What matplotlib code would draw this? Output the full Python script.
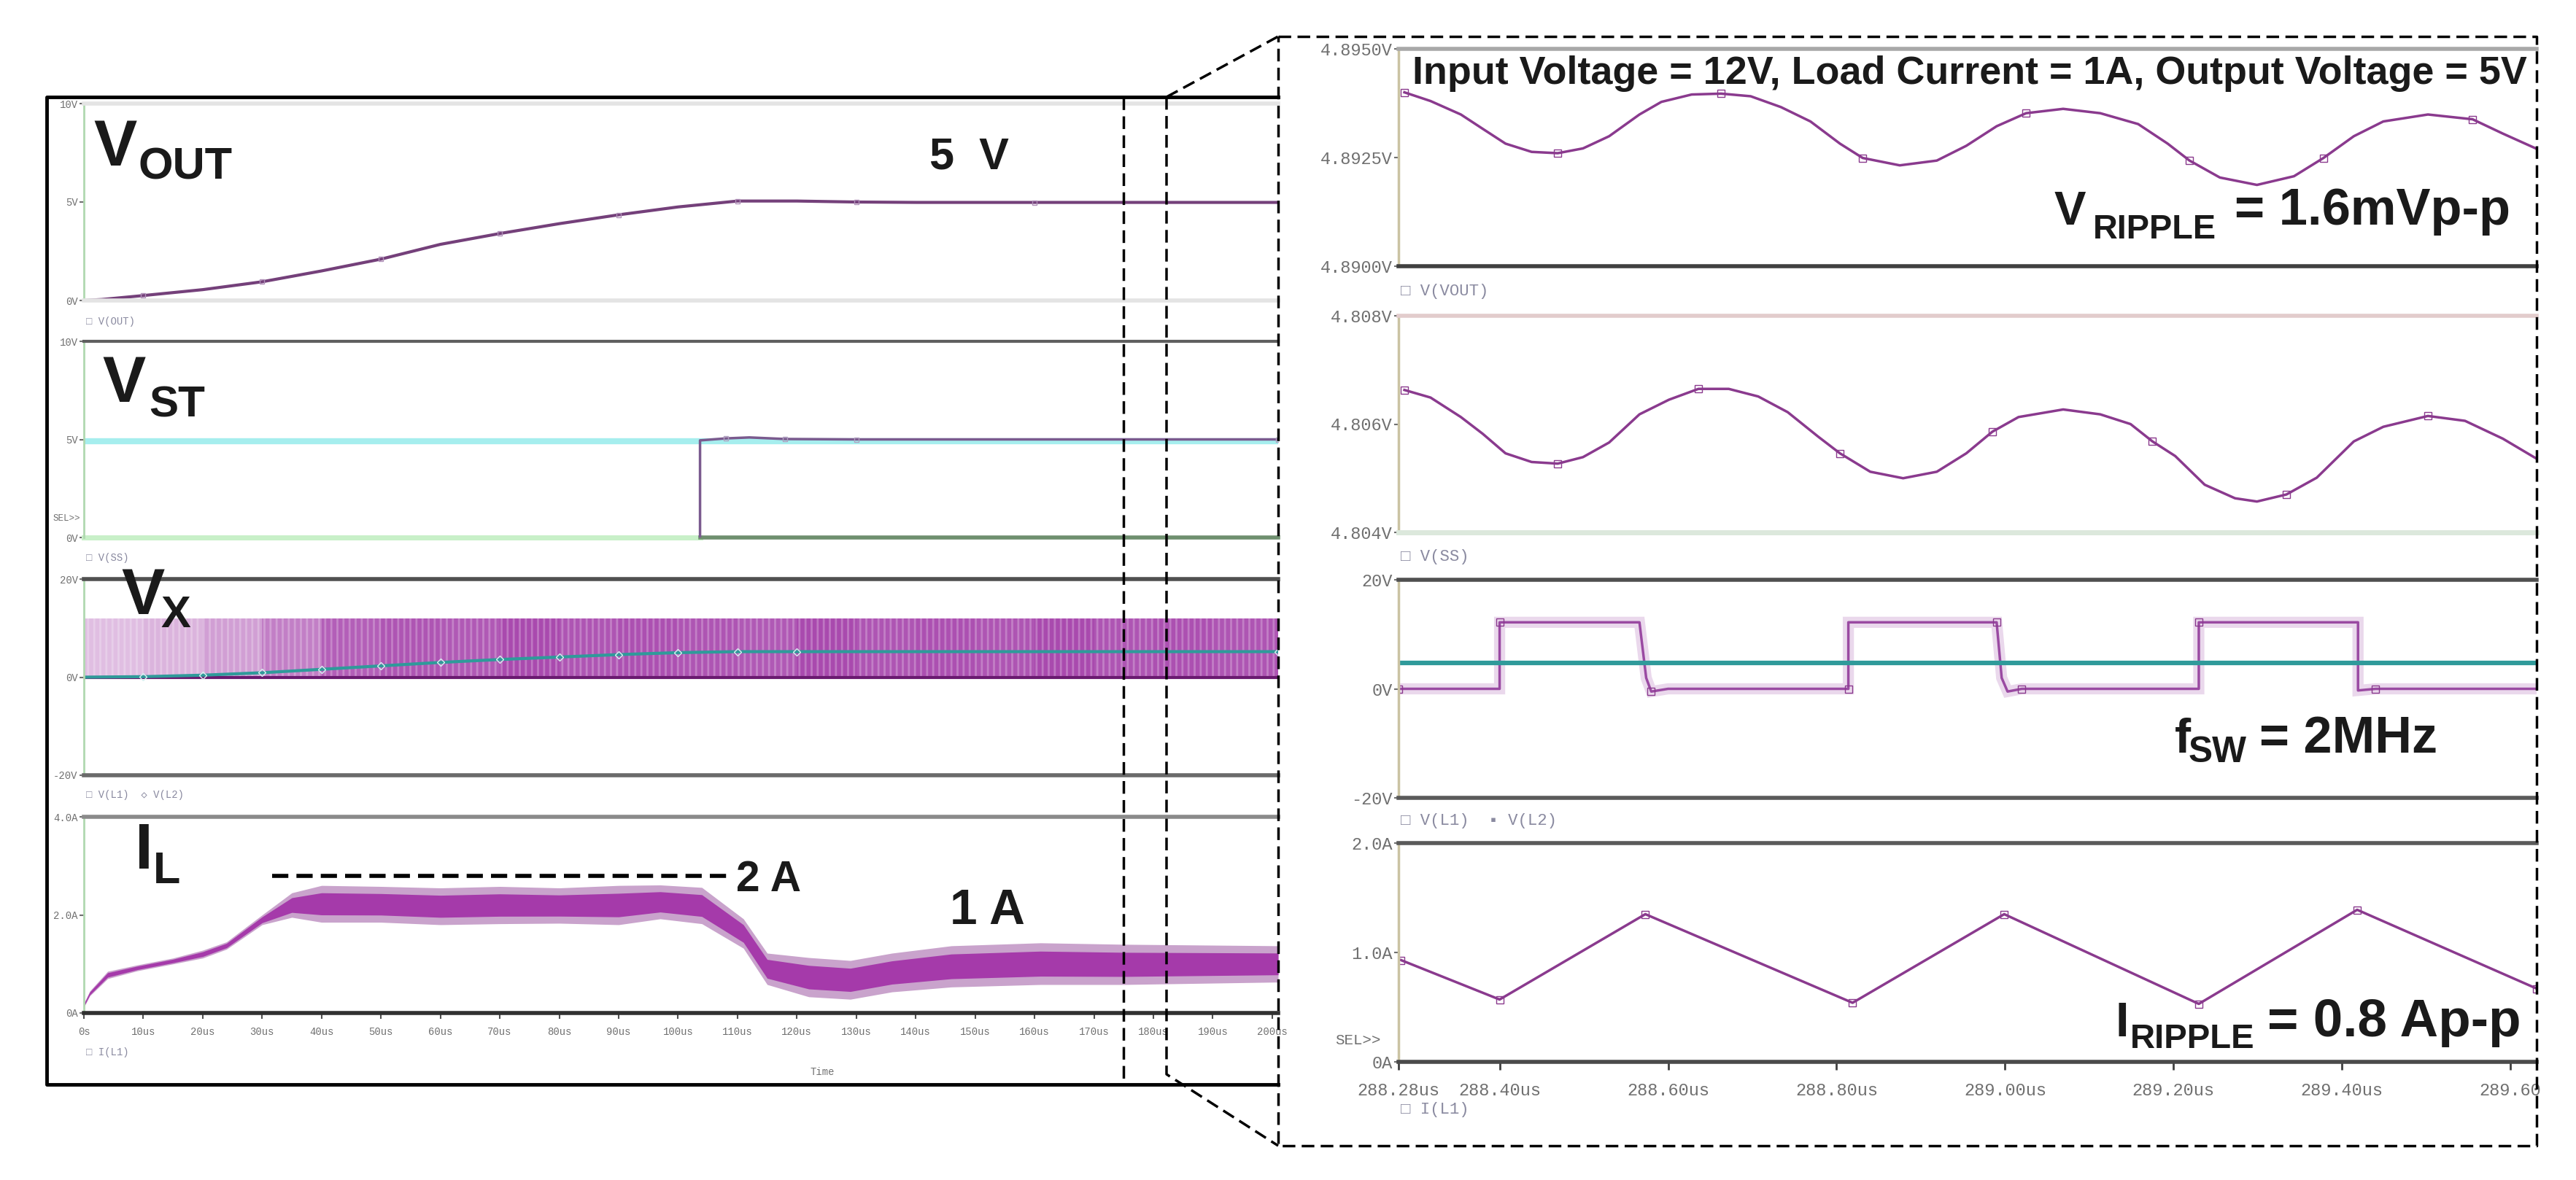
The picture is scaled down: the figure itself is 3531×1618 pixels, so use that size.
import numpy as np
import matplotlib
matplotlib.use("Agg")
import matplotlib.pyplot as plt
from matplotlib.lines import Line2D

W, H = 3531, 1618
plt.rcParams['font.family'] = ['Liberation Sans', 'DejaVu Sans']
MONO = ['Liberation Mono', 'DejaVu Sans Mono']

# ---------------- start-up window (left), time in us ----------------
vout_t = [0, 3, 10, 20, 30, 40, 50, 60, 70, 80, 90, 100, 110, 120, 130, 140, 160, 180, 201]
vout_v = [0, 0.05, 0.25, 0.55, 0.95, 1.5, 2.1, 2.85, 3.4, 3.9, 4.35, 4.75, 5.05, 5.05, 5.0, 4.98, 4.98, 4.98, 4.98]

vst_t = [0, 103.7, 103.7, 108, 112, 118, 130, 201]
vst_v = [0, 0, 4.95, 5.05, 5.1, 5.02, 5.0, 5.0]
vst_ref = 4.9

vx_high = 12.0
vx_seg_t = [0, 10, 20, 30, 40, 50, 60, 70, 80, 90, 100, 110, 120, 130, 140, 150, 160, 170, 180, 190, 201]
vx_shade = [0.3, 0.35, 0.45, 0.6, 0.75, 0.8, 0.78, 0.85, 0.8, 0.82, 0.8, 0.78, 0.85, 0.8, 0.82, 0.8, 0.85, 0.8, 0.82, 0.8]
vl2_t = [0, 10, 20, 30, 40, 50, 60, 70, 80, 90, 100, 110, 120, 201]
vl2_v = [0, 0.1, 0.4, 0.9, 1.6, 2.3, 3.0, 3.6, 4.1, 4.6, 5.0, 5.2, 5.2, 5.2]

il_t = [0, 1, 4, 9, 15, 20, 24, 30, 35, 40, 50, 60, 70, 80, 90, 97, 104, 111, 115, 122, 129, 136, 146, 161, 175, 201]
il_hi = [0.20, 0.45, 0.85, 0.98, 1.12, 1.28, 1.45, 2.0, 2.45, 2.6, 2.58, 2.55, 2.58, 2.55, 2.6, 2.61, 2.56, 1.92, 1.22,
         1.13, 1.07, 1.22, 1.37, 1.43, 1.40, 1.37]
il_lo = [0.12, 0.35, 0.70, 0.86, 1.00, 1.12, 1.30, 1.80, 1.95, 1.85, 1.85, 1.80, 1.82, 1.83, 1.80, 1.92, 1.82, 1.32, 0.58,
         0.33, 0.28, 0.43, 0.53, 0.58, 0.58, 0.63]
il_peak = 2.8

left_xt = [0, 10, 20, 30, 40, 50, 60, 70, 80, 90, 100, 110, 120, 130, 140, 150, 160, 170, 180, 190, 200]
left_xl = ['0s', '10us', '20us', '30us', '40us', '50us', '60us', '70us', '80us', '90us', '100us', '110us',
           '120us', '130us', '140us', '150us', '160us', '170us', '180us', '190us', '200us']

# ---------------- zoomed steady state (right), time in us ----------------
r_vout_t = [288.287, 288.318, 288.354, 288.380, 288.407, 288.438, 288.469, 288.499, 288.530, 288.566, 288.592,
            288.628, 288.663, 288.698, 288.734, 288.769, 288.804, 288.831, 288.875, 288.919, 288.954, 288.990,
            289.025, 289.069, 289.113, 289.158, 289.193, 289.219, 289.255, 289.299, 289.343, 289.378, 289.414,
            289.449, 289.502, 289.555, 289.591, 289.630]
r_vout_v = [4.89400, 4.89380, 4.89349, 4.89316, 4.89282, 4.89263, 4.89260, 4.89271, 4.89299, 4.89349, 4.89378,
            4.89395, 4.89397, 4.89391, 4.89366, 4.89333, 4.89282, 4.89249, 4.89232, 4.89243, 4.89277, 4.89322,
            4.89352, 4.89362, 4.89352, 4.89327, 4.89282, 4.89243, 4.89204, 4.89187, 4.89207, 4.89249, 4.89299,
            4.89333, 4.89349, 4.89338, 4.89305, 4.89271]

r_vss_t = [288.287, 288.318, 288.354, 288.380, 288.407, 288.438, 288.469, 288.499, 288.530, 288.566, 288.601,
           288.636, 288.672, 288.707, 288.742, 288.778, 288.804, 288.840, 288.879, 288.919, 288.954, 288.985,
           289.016, 289.069, 289.113, 289.149, 289.175, 289.202, 289.237, 289.273, 289.299, 289.334, 289.370,
           289.414, 289.449, 289.502, 289.546, 289.591, 289.630]
r_vss_v = [4.80663, 4.80649, 4.80613, 4.80582, 4.80546, 4.80530, 4.80527, 4.80539, 4.80566, 4.80618, 4.80645,
           4.80665, 4.80665, 4.80651, 4.80622, 4.80577, 4.80546, 4.80512, 4.80500, 4.80512, 4.80546, 4.80586,
           4.80613, 4.80627, 4.80618, 4.80600, 4.80568, 4.80541, 4.80488, 4.80463, 4.80457, 4.80470, 4.80501,
           4.80568, 4.80595, 4.80615, 4.80606, 4.80573, 4.80537]

r_vl1_t = [288.28, 288.400, 288.400, 288.566, 288.574, 288.580, 288.600, 288.814, 288.814, 288.990, 288.996,
           289.003, 289.020, 289.230, 289.230, 289.419, 289.419, 289.440, 289.631]
r_vl1_v = [0.0, 0.0, 12.2, 12.2, 2.0, -0.5, 0.0, 0.0, 12.2, 12.2, 2.0, -0.5, 0.0, 0.0, 12.2, 12.2, -0.3, 0.0, 0.0]
r_vl2 = 4.8

r_il_t = [288.283, 288.400, 288.573, 288.819, 288.999, 289.230, 289.418, 289.631]
r_il_v = [0.93, 0.57, 1.35, 0.54, 1.35, 0.53, 1.39, 0.67]

right_xt = [288.28, 288.40, 288.60, 288.80, 289.00, 289.20, 289.40, 289.60]
right_xl = ['288.28us', '288.40us', '288.60us', '288.80us', '289.00us', '289.20us', '289.40us', '289.60']

PURPLE = '#8a3a8e'
TEAL = '#2f9a9a'

fig = plt.figure(figsize=(W / 100, H / 100), dpi=100)
renderer = fig.canvas.get_renderer()


def fx(x):
    return x / W


def fy(y):
    return 1 - y / H


def add_ax(x0, x1, y0, y1):
    return fig.add_axes([fx(x0), fy(y1), fx(x1) - fx(x0), (y1 - y0) / H])


def ftext(x, y, s, **kw):
    kw.setdefault('va', 'baseline')
    return fig.text(fx(x), fy(y), s, **kw)


def fit_text(x0, x1, y, s, size, **kw):
    # size the label so it spans the same width as in the reference
    t = ftext(x0, y, s, fontsize=size, **kw)
    bb = t.get_window_extent(renderer=renderer)
    t.set_fontsize(size * (x1 - x0) / bb.width)
    return t


def fline(xs, ys, **kw):
    fig.add_artist(Line2D([fx(x) for x in xs], [fy(y) for y in ys], transform=fig.transFigure, **kw))


def style(ax, top, bottom, left, lsize, xlim, ylim, yt, yl):
    ax.set_xlim(*xlim)
    ax.set_ylim(*ylim)
    ax.spines['right'].set_visible(False)
    for k, (c, w) in (('top', top), ('bottom', bottom), ('left', left)):
        ax.spines[k].set_color(c)
        ax.spines[k].set_linewidth(w)
    ax.set_yticks(yt)
    ax.set_yticklabels(yl, family=MONO, fontsize=lsize, color='#707070')
    ax.tick_params(axis='y', length=4, width=1.5, color='#707070', pad=2)
    ax.set_xticks([])
    ax.patch.set_alpha(0)


# ---------------- left panels ----------------
LX0, LX1 = 115, 1752
LGREEN = ('#b0d8b0', 2)
axL1 = add_ax(LX0, LX1, 142, 412)
style(axL1, ('#e4e4e4', 4), ('#e4e4e4', 4), LGREEN, 10, (0, 201), (0, 10), [0, 5, 10], ['0V', '5V', '10V'])
axL1.plot(vout_t, vout_v, color='#74407a', lw=3, marker='s', ms=5, mfc='none', mec='#b090b8',
          markevery=[2, 4, 6, 8, 10, 12, 14, 16])

axL2 = add_ax(LX0, LX1, 468, 737)
style(axL2, ('#606060', 3), ('#ffffff', 0), LGREEN, 10, (0, 201), (0, 10), [0, 5, 10], ['0V', '5V', '10V'])
axL2.axhline(vst_ref, color='#a6eeee', lw=6)
axL2.plot([0, vst_t[1]], [0, 0], color='#c8f0c8', lw=5, clip_on=False)
axL2.plot([vst_t[1], 201], [0, 0], color='#6f8f6f', lw=4, clip_on=False)
axL2.plot(vst_t[1:], vst_v[1:], color='#7a5a8e', lw=2.5, marker='s', ms=5, mfc='none', mec='#b0a0c0',
          markevery=[2, 4, 5, 6])

axL3 = add_ax(LX0, LX1, 794, 1063)
style(axL3, ('#505050', 4), ('#6a6a6a', 4), LGREEN, 10, (0, 201), (-20, 20), [-20, 0, 20], ['-20V', '0V', '20V'])
for i, a in enumerate(vx_shade):
    axL3.fill_between(vx_seg_t[i:i + 2], 0, vx_high, color='#9a2aa0', alpha=a, lw=0)
plt.rcParams['hatch.linewidth'] = 2.0
axL3.fill_between([0, 201], 0, vx_high, facecolor='none', hatch='||', edgecolor=(1, 1, 1, 0.25), lw=0)
axL3.axhline(0, color='#6a1a70', lw=3)
axL3.plot(vl2_t, vl2_v, color=TEAL, lw=3, marker='D', ms=5, mfc='none', mec='#d8f0f0', markevery=range(1, 14))

axL4 = add_ax(LX0, LX1, 1120, 1389)
style(axL4, ('#8a8a8a', 4), ('#303030', 4), LGREEN, 10, (0, 201), (0, 4), [0, 2, 4], ['0A', '2.0A', '4.0A'])
il_hi_a = np.array(il_hi)
il_lo_a = np.array(il_lo)
span = il_hi_a - il_lo_a
axL4.fill_between(il_t, il_lo_a, il_hi_a, color='#c9a3cc', lw=0)
axL4.fill_between(il_t, il_lo_a + 0.2 * span, il_hi_a - 0.2 * span, color='#a53aaa', lw=0)
axL4.plot([31.7, 109], [il_peak, il_peak], color='black', lw=4, ls=(0, (4, 2)))
axL4.set_xticks(left_xt)
axL4.set_xticklabels(left_xl, family=MONO, fontsize=10, color='#707070')
axL4.tick_params(axis='x', length=6, width=1.5, color='#505050', pad=8)

# legend-like captions under the left panels
cap = dict(family=MONO, fontsize=10, color='#8a8aa0', va='center')
ftext(118, 441, '\u25a1 V(OUT)', **cap)
ftext(118, 765, '\u25a1 V(SS)', **cap)
ftext(118, 1090, '\u25a1 V(L1)  \u25c7 V(L2)', **cap)
ftext(118, 1443, '\u25a1 I(L1)', **cap)
ftext(73, 711, 'SEL>>', family=MONO, fontsize=9, color='#707070', va='center')
ftext(1127, 1470, 'Time', family=MONO, fontsize=10, color='#707070', va='center', ha='center')

# ---------------- right panels ----------------
RX0, RX1 = 1917, 3477
KHAKI = ('#cbc3a3', 2.5)
rx = (288.28, 289.631)
axR1 = add_ax(RX0, RX1, 67, 365)
style(axR1, ('#a8a8a8', 4), ('#404040', 4), KHAKI, 17, rx, (4.8900, 4.8950), [4.8900, 4.8925, 4.8950],
      ['4.8900V', '4.8925V', '4.8950V'])
axR1.plot(r_vout_t, r_vout_v, color=PURPLE, lw=2.5, marker='s', ms=7, mfc='none', mec=PURPLE,
          markevery=[0, 6, 12, 17, 22, 27, 31, 35])

axR2 = add_ax(RX0, RX1, 433, 730)
style(axR2, ('#e2cccc', 4), ('#dce8dc', 5), KHAKI, 17, rx, (4.804, 4.808), [4.804, 4.806, 4.808],
      ['4.804V', '4.806V', '4.808V'])
axR2.plot(r_vss_t, r_vss_v, color=PURPLE, lw=2.5, marker='s', ms=7, mfc='none', mec=PURPLE,
          markevery=[0, 6, 11, 16, 21, 26, 31, 35])

axR3 = add_ax(RX0, RX1, 795, 1094)
style(axR3, ('#505050', 4), ('#5a5a5a', 4), KHAKI, 17, rx, (-20, 20), [-20, 0, 20], ['-20V', '0V', '20V'])
axR3.plot(r_vl1_t, r_vl1_v, color='#ead8ec', lw=11, solid_joinstyle='miter')
axR3.plot(r_vl1_t, r_vl1_v, color='#9a4aa2', lw=2.5, marker='s', ms=7, mfc='none', mec=PURPLE,
          markevery=[0, 2, 5, 7, 9, 12, 14, 17])
axR3.axhline(r_vl2, color=TEAL, lw=4.5)

axR4 = add_ax(RX0, RX1, 1156, 1456)
style(axR4, ('#5a5a5a', 4), ('#4a4a4a', 4), KHAKI, 17, rx, (0, 2.0), [0, 1.0, 2.0], ['0A', '1.0A', '2.0A'])
axR4.plot(r_il_t, r_il_v, color=PURPLE, lw=2.5, marker='s', ms=7, mfc='none', mec=PURPLE)
axR4.set_xticks(right_xt)
axR4.set_xticklabels(right_xl, family=MONO, fontsize=17, color='#707070')
axR4.tick_params(axis='x', length=8, width=2, color='#404040', pad=12)

rcap = dict(family=MONO, fontsize=16, color='#8a8aa0', va='center')
ftext(1920, 400, '\u25a1 V(VOUT)', **rcap)
ftext(1920, 764, '\u25a1 V(SS)', **rcap)
ftext(1920, 1126, '\u25a1 V(L1)  \u25aa V(L2)', **rcap)
ftext(1920, 1521, '\u25a1 I(L1)', **rcap)
ftext(1830, 1426, 'SEL>>', family=MONO, fontsize=15, color='#707070', va='center')

# ---------------- big annotation text ----------------
B = dict(weight='bold', color='#1a1a1a')
ftext(128, 227, 'V', fontsize=64, **B)
fit_text(190, 319, 246, 'OUT', 44, **B)
ftext(140, 551, 'V', fontsize=64, **B)
fit_text(204, 281, 571, 'ST', 44, **B)
ftext(166, 842, 'V', fontsize=64, **B)
ftext(220, 860, 'X', fontsize=44, **B)
ftext(185, 1191, 'I', fontsize=64, **B)
ftext(210, 1211, 'L', fontsize=44, **B)
ftext(1328, 232, '5  V', fontsize=44, ha='center', **B)
fit_text(1009, 1098, 1222, '2 A', 46, **B)
fit_text(1302, 1405, 1267, '1 A', 50, **B)

fit_text(1936, 3461, 115, 'Input Voltage = 12V, Load Current = 1A, Output Voltage = 5V', 38, **B)
ftext(2816, 308, 'V', fontsize=47, **B)
fit_text(2869, 3038, 327, 'RIPPLE', 34, **B)
fit_text(3063, 3441, 308, '= 1.6mVp-p', 46, **B)
ftext(2981, 1032, 'f', fontsize=48, **B)
fit_text(3000, 3080, 1045, 'SW', 34, **B)
fit_text(3097, 3341, 1032, '= 2MHz', 48, **B)
ftext(2899, 1421, 'I', fontsize=48, **B)
fit_text(2920, 3091, 1437, 'RIPPLE', 34, **B)
fit_text(3108, 3455, 1421, '= 0.8 Ap-p', 48, **B)

# ---------------- frames and zoom connectors ----------------
fline([1752, 64, 64, 1752], [133, 133, 1487, 1487], color='black', lw=3.5)
dash = dict(color='black', lw=2.5, ls=(0, (5, 2.5)))
fline([1752, 3477, 3477, 1752, 1752], [50, 50, 1571, 1571, 50], **dash)
fline([1540, 1540], [133, 1487], **dash)
fline([1599, 1599, 1752], [133, 1473, 1571], **dash)
fline([1599, 1752], [133, 50], **dash)

fig.savefig('out.png', dpi=100)
